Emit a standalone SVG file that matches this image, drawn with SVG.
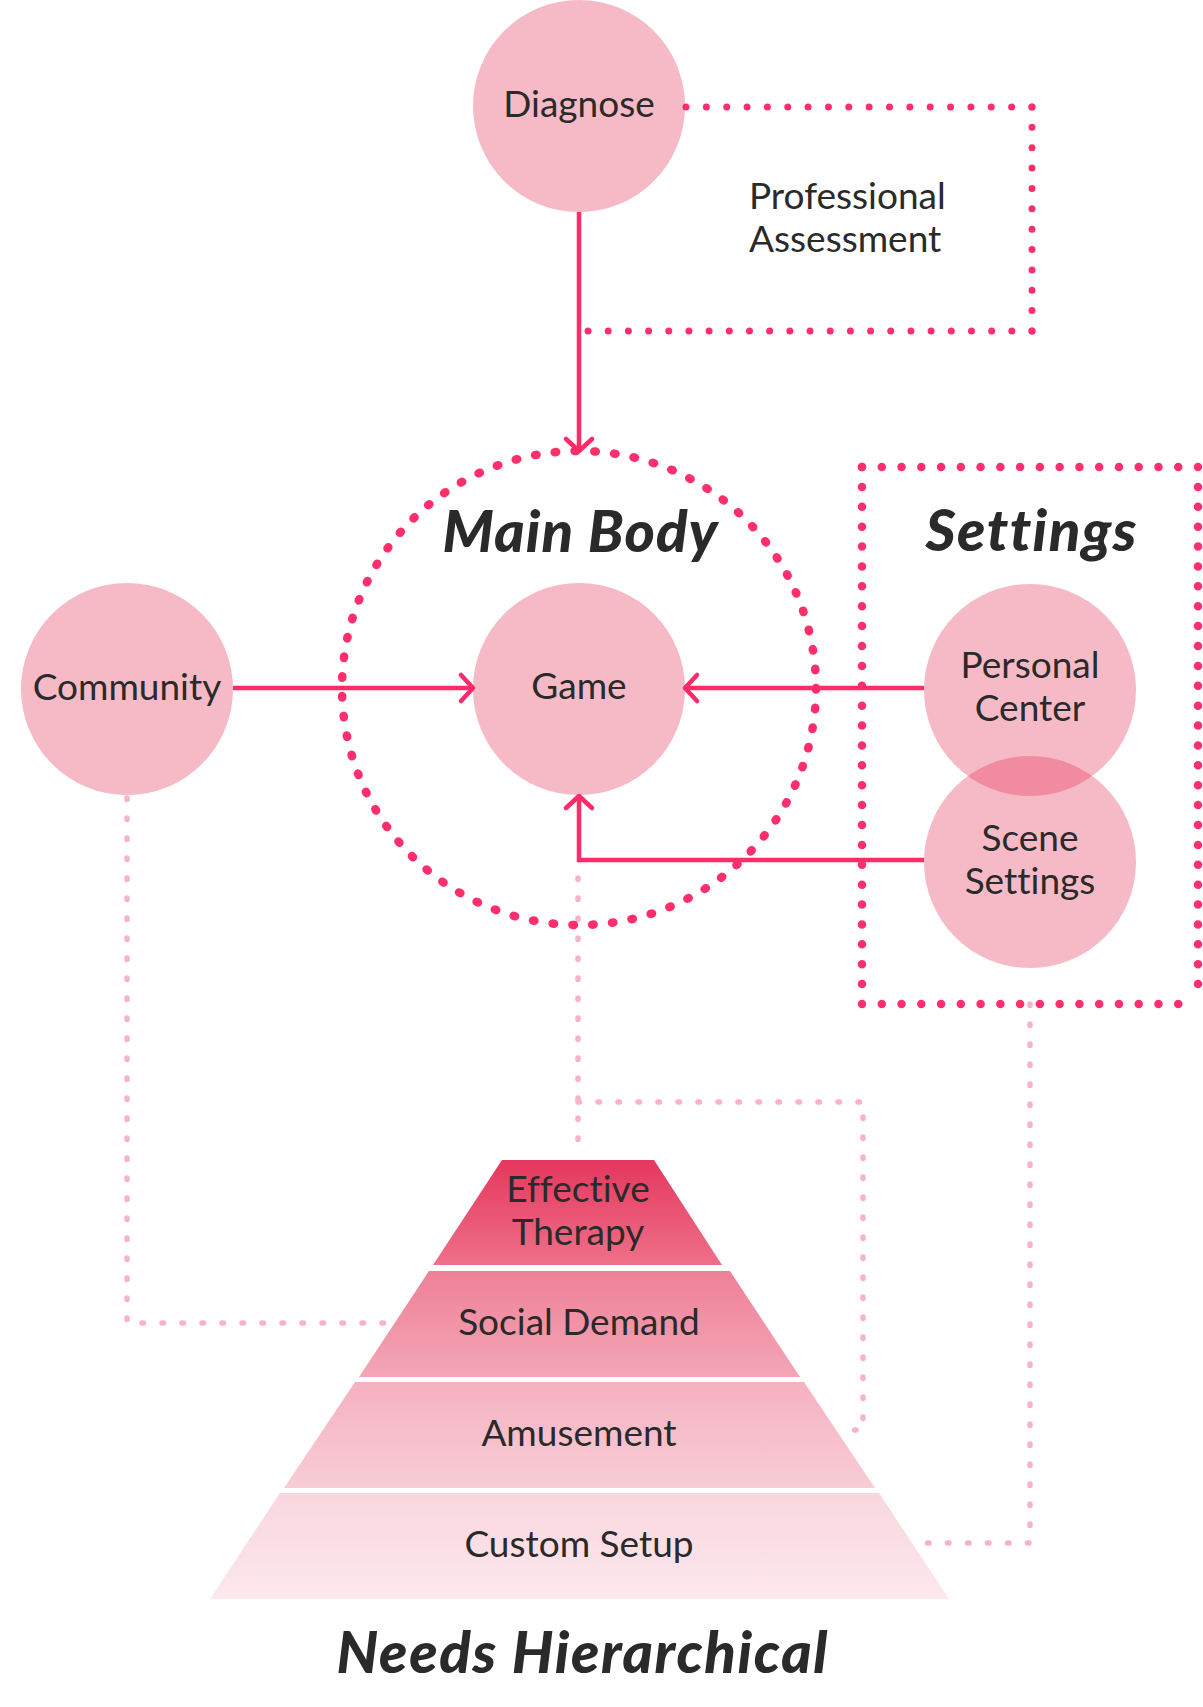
<svg xmlns="http://www.w3.org/2000/svg" width="1203" height="1707" viewBox="0 0 1203 1707">
<style>
  .lbl { font-family: Lato, "Open Sans", "Liberation Sans", sans-serif; font-size: 37px; fill: #2a2a2a; text-anchor: middle; font-variant-ligatures: none; }
  .title { font-family: Lato, "Open Sans", "Liberation Sans", sans-serif; font-size: 58px; font-weight: 900; font-style: italic; fill: #2a2a2a; text-anchor: middle; font-variant-ligatures: none; }
  .node { fill: #E42E55; fill-opacity: 0.33; }
  .solid { fill: none; stroke: #FF2A68; stroke-width: 4.5; }
  .reddot { fill: none; stroke: #FF2F6C; stroke-width: 8.5; stroke-linecap: round; }
  .reddot-s { fill: none; stroke: #FF2F6C; stroke-width: 7; stroke-linecap: round; }
  .pale { fill: none; stroke: #F8B4C6; stroke-width: 5.5; stroke-linecap: round; stroke-dasharray: 1.5 18.5; }
</style>
<defs>
  <marker id="arr" viewBox="-16 -16 20 32" refX="0" refY="0" markerWidth="20" markerHeight="32" markerUnits="userSpaceOnUse" orient="auto" overflow="visible">
    <path d="M-12,-13 L0,0 L-12,13" fill="none" stroke="#FF2A68" stroke-width="4.5" stroke-linecap="round" stroke-linejoin="round"/>
  </marker>
  <linearGradient id="g1" x1="0" y1="0" x2="0" y2="1"><stop offset="0" stop-color="#E5375E"/><stop offset="1" stop-color="#EE7089"/></linearGradient>
  <linearGradient id="g2" x1="0" y1="0" x2="0" y2="1"><stop offset="0" stop-color="#EF8098"/><stop offset="1" stop-color="#F3A6B6"/></linearGradient>
  <linearGradient id="g3" x1="0" y1="0" x2="0" y2="1"><stop offset="0" stop-color="#F5B1C0"/><stop offset="1" stop-color="#F8CDD6"/></linearGradient>
  <linearGradient id="g4" x1="0" y1="0" x2="0" y2="1"><stop offset="0" stop-color="#F9D6DE"/><stop offset="1" stop-color="#FCE8ED"/></linearGradient>
</defs>
<rect width="1203" height="1707" fill="#ffffff"/>

<g id="connectors">
  <!-- pale dotted links to pyramid -->
  <path class="pale" d="M127,798 V1323 H392"/>
  <path class="pale" d="M578,878 V1158"/>
  <path class="pale" d="M578,1102 H863 V1430 H836"/>
  <path class="pale" d="M1030,1004 V1543 H912"/>
  <!-- professional assessment loop -->
  <line class="reddot-s" x1="686" y1="107" x2="1032" y2="107" stroke-dasharray="0 20.35"/>
  <line class="reddot-s" x1="1032" y1="107" x2="1032" y2="331" stroke-dasharray="0 20.36"/>
  <line class="reddot-s" x1="1032" y1="331" x2="588" y2="331" stroke-dasharray="0 20.18"/>
  <!-- main body dotted circle -->
  <circle cx="579" cy="688" r="237" class="reddot" stroke-dasharray="1.5 18.355"/>
  <!-- settings dotted box -->
  <line class="reddot" x1="862" y1="467" x2="1198" y2="467" stroke-dasharray="0 19.765"/>
  <line class="reddot" x1="862" y1="1004" x2="1198" y2="1004" stroke-dasharray="0 19.765"/>
  <line class="reddot" x1="862" y1="467" x2="862" y2="1004" stroke-dasharray="0 19.889"/>
  <line class="reddot" x1="1198" y1="467" x2="1198" y2="1004" stroke-dasharray="0 19.889"/>
  <!-- arrows -->
  <path class="solid" d="M579,212 V451" marker-end="url(#arr)"/>
  <path class="solid" d="M233,688 H473" marker-end="url(#arr)"/>
  <path class="solid" d="M924,688 H685" marker-end="url(#arr)"/>
  <path class="solid" d="M924,860 H579 V796" marker-end="url(#arr)"/>
</g>

<g id="diagnose">
  <circle class="node" cx="579" cy="106" r="106"/>
  <text class="lbl" x="579" y="117">Diagnose</text>
</g>
<g id="professional-assessment">
  <text class="lbl" x="749" y="209" style="text-anchor:start">Professional</text>
  <text class="lbl" x="749" y="252" style="text-anchor:start">Assessment</text>
</g>
<g id="main-body">
  <text class="title" x="580" y="552" textLength="275" lengthAdjust="spacing">Main Body</text>
</g>
<g id="game">
  <circle class="node" cx="579" cy="689" r="106"/>
  <text class="lbl" x="579" y="699">Game</text>
</g>
<g id="community">
  <circle class="node" cx="127" cy="689" r="106"/>
  <text class="lbl" x="127" y="700">Community</text>
</g>
<g id="settings">
  <text class="title" x="1031" y="551" textLength="211" lengthAdjust="spacing">Settings</text>
</g>
<g id="personal-center">
  <circle class="node" cx="1030" cy="690" r="106"/>
  <text class="lbl" x="1030" y="678">Personal</text>
  <text class="lbl" x="1030" y="721">Center</text>
</g>
<g id="scene-settings">
  <circle class="node" cx="1030" cy="862" r="106"/>
  <text class="lbl" x="1030" y="851">Scene</text>
  <text class="lbl" x="1030" y="894">Settings</text>
</g>

<g id="pyramid">
  <g id="tier-effective-therapy">
    <polygon points="502,1160 654,1160 722,1265 433,1265" fill="url(#g1)"/>
    <text class="lbl" x="578" y="1202">Effective</text>
    <text class="lbl" x="578" y="1245">Therapy</text>
  </g>
  <g id="tier-social-demand">
    <polygon points="429,1271 730,1271 800,1377 359,1377" fill="url(#g2)"/>
    <text class="lbl" x="579" y="1335">Social Demand</text>
  </g>
  <g id="tier-amusement">
    <polygon points="355,1382 804,1382 875,1488 284,1488" fill="url(#g3)"/>
    <text class="lbl" x="579" y="1446">Amusement</text>
  </g>
  <g id="tier-custom-setup">
    <polygon points="280,1493 879,1493 949,1599 210,1599" fill="url(#g4)"/>
    <text class="lbl" x="579" y="1557">Custom Setup</text>
  </g>
  <text class="title" x="582" y="1673" textLength="491" lengthAdjust="spacing">Needs Hierarchical</text>
</g>
</svg>
